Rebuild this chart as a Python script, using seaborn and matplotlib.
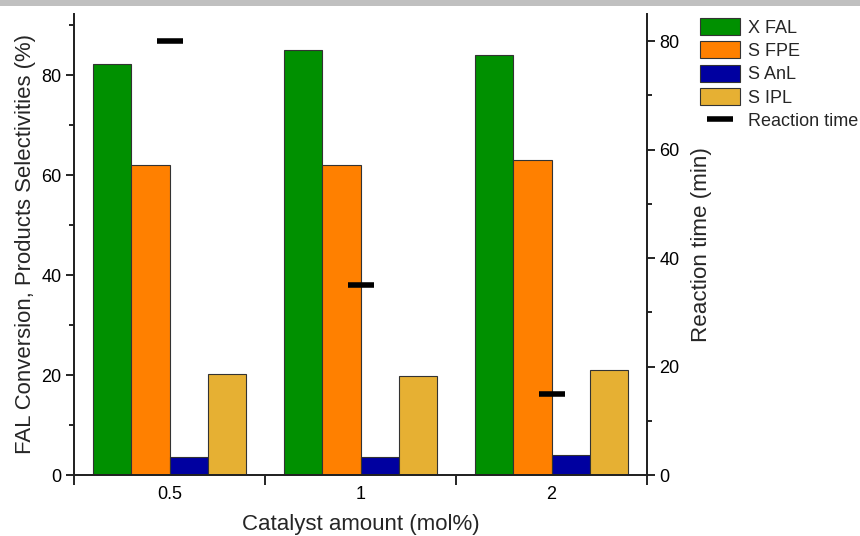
import matplotlib
matplotlib.use("Agg")
import matplotlib.pyplot as plt
import seaborn as sns
import pandas as pd
from matplotlib.patches import Patch, Rectangle
from matplotlib.lines import Line2D
from matplotlib.ticker import FixedLocator

# ---- data ----
catalyst = ["0.5", "1", "2"]
x_fal = [82.3, 85.0, 84.0]
s_fpe = [62.0, 62.0, 63.0]
s_anl = [3.6, 3.6, 4.0]
s_ipl = [20.3, 19.8, 21.0]
reaction_time = [80, 35, 15]
series_names = ["X FAL", "S FPE", "S AnL", "S IPL"]
series_colors = ["#009000", "#ff8000", "#0000a0", "#e6b033"]

rows = []
for name, vals in zip(series_names, [x_fal, s_fpe, s_anl, s_ipl]):
    for c, v in zip(catalyst, vals):
        rows.append({"Catalyst": c, "Series": name, "Value": v})
df = pd.DataFrame(rows)
df_time = pd.DataFrame({"Catalyst": catalyst, "Time": reaction_time})

sns.set_theme(style="ticks")
plt.rcParams["font.family"] = ["Liberation Sans", "DejaVu Sans"]

fig = plt.figure(figsize=(8.6, 5.36), dpi=100)
ax = fig.add_axes([74 / 860, 61 / 536, (647 - 74) / 860, (475 - 14) / 536])

sns.barplot(data=df, x="Catalyst", y="Value", hue="Series", order=catalyst,
            hue_order=series_names, palette=series_colors, width=0.8,
            edgecolor="#333333", linewidth=0.8, saturation=1, ax=ax, legend=False)

ax.set_xlim(-0.5, 2.5)
ax.set_ylim(0, 92.2)
ax.yaxis.set_major_locator(FixedLocator([0, 20, 40, 60, 80]))
ax.yaxis.set_minor_locator(FixedLocator([10, 30, 50, 70, 90]))
ax.xaxis.set_minor_locator(FixedLocator([-0.5, 0.5, 1.5, 2.5]))
ax.tick_params(axis="x", which="major", length=0, labelsize=13, pad=8, colors="black")
ax.tick_params(axis="x", which="minor", length=7, width=1.2, direction="out", color="black")
ax.tick_params(axis="y", which="major", length=6, width=1.2, labelsize=13, pad=3, colors="black")
ax.tick_params(axis="y", which="minor", length=3.5, width=1.2, color="black")
ax.set_xlabel("Catalyst amount (mol%)", fontsize=16, labelpad=8)
ax.set_ylabel("FAL Conversion, Products Selectivities (%)", fontsize=15.9, labelpad=4)
for s in ["left", "bottom", "right"]:
    ax.spines[s].set_linewidth(1.3)
    ax.spines[s].set_color("#222222")
ax.spines["top"].set_visible(False)

ax2 = ax.twinx()
sns.pointplot(data=df_time, x="Catalyst", y="Time", order=catalyst, linestyle="none",
              marker="_", markersize=19, markeredgewidth=4, color="black",
              errorbar=None, ax=ax2)
ax2.set_xlim(-0.5, 2.5)
ax2.set_ylim(0, 85)
ax2.yaxis.set_major_locator(FixedLocator([0, 20, 40, 60, 80]))
ax2.yaxis.set_minor_locator(FixedLocator([10, 30, 50, 70]))
ax2.tick_params(axis="y", which="major", length=6, width=1.2, labelsize=13, pad=3, colors="black")
ax2.tick_params(axis="y", which="minor", length=3.5, width=1.2, color="black")
ax2.set_ylabel("Reaction time (min)", fontsize=16.1, labelpad=8)
ax2.set_xlabel("")
for s in ["left", "bottom", "right"]:
    ax2.spines[s].set_linewidth(1.3)
    ax2.spines[s].set_color("#222222")
ax2.spines["top"].set_visible(False)

handles = [Patch(facecolor=c, edgecolor="#333333", linewidth=0.8) for c in series_colors]
handles.append(Line2D([], [], linestyle="none", marker="_", markersize=19,
                      markeredgewidth=4, color="black"))
labels = series_names + ["Reaction time"]
fig.legend(handles, labels, loc="upper left", bbox_to_anchor=(700 / 860, 1 - 18 / 536),
           frameon=False, fontsize=13, handlelength=2.2, handleheight=1.05,
           labelspacing=0.27, handletextpad=0.45, borderpad=0, borderaxespad=0)

fig.patches.append(Rectangle((0, 1 - 6 / 536), 1, 6 / 536, transform=fig.transFigure,
                             facecolor="#c0c0c0", edgecolor="none", zorder=0))

fig.savefig("out.png", dpi=100)
